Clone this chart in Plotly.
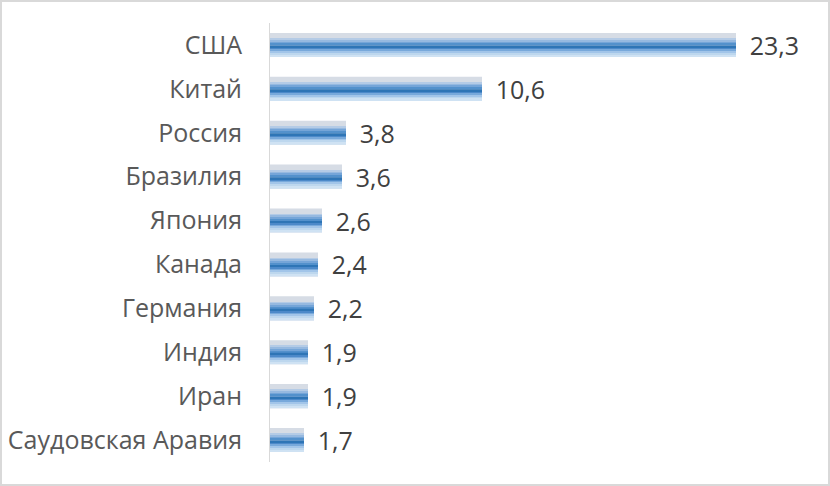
import plotly.graph_objects as go

# countries and values, top to bottom
countries = ["США", "Китай", "Россия", "Бразилия", "Япония", "Канада",
             "Германия", "Индия", "Иран", "Саудовская Аравия"]
values = [23.3, 10.6, 3.8, 3.6, 2.6, 2.4, 2.2, 1.9, 1.9, 1.7]

BAR_W = 0.55

# fake the vertical gradient of the bars with thin overlaid bands:
# (start, end) as fraction of bar height from the top, colour
bands = [
    (0.00, 0.24, "#d6dce5"),
    (0.24, 0.31, "#b4cbe6"),
    (0.31, 0.38, "#96b9e0"),
    (0.38, 0.45, "#75a5d8"),
    (0.45, 0.52, "#5391cc"),
    (0.52, 0.64, "#2e75b6"),
    (0.64, 0.70, "#4c89c9"),
    (0.70, 0.76, "#78a9db"),
    (0.76, 0.84, "#a2c5e9"),
    (0.84, 0.92, "#bdd7ee"),
    (0.92, 1.00, "#cfe2f3"),
]

FONT = "Open Sans"
FS = 25

fig = go.Figure()

# full-height base bar carries the value labels
fig.add_trace(go.Bar(
    x=values, y=countries, orientation="h",
    width=BAR_W, offset=-BAR_W / 2,
    marker=dict(color=bands[0][2], line=dict(width=0)),
    texttemplate="\u00a0\u2009%{x:.1f}", textposition="outside",
    constraintext="none",
    textfont=dict(size=FS, color="#404040", family=FONT),
    cliponaxis=False, hoverinfo="skip",
))

for a, b, col in bands[1:]:
    fig.add_trace(go.Bar(
        x=values, y=countries, orientation="h",
        width=(b - a) * BAR_W, offset=-BAR_W / 2 + a * BAR_W,
        marker=dict(color=col, line=dict(width=0)),
        hoverinfo="skip",
    ))

L, R, T, B = 270, 60, 23, 24
W, H = 830, 486
pw, ph = W - L - R, H - T - B

fig.update_layout(
    width=W, height=H,
    margin=dict(l=L, r=R, t=T, b=B, autoexpand=False),
    barmode="overlay", showlegend=False,
    separators=", ",
    paper_bgcolor="white", plot_bgcolor="white",
    font=dict(family=FONT, size=FS, color="#595959"),
    xaxis=dict(range=[0, 25], visible=False, automargin=False),
    yaxis=dict(autorange="reversed", showline=True, linecolor="#d9d9d9",
               linewidth=1, ticks="", showgrid=False, ticklabelstandoff=22,
               automargin=False,
               tickfont=dict(size=FS, color="#595959", family=FONT)),
    shapes=[dict(type="rect", xref="paper", yref="paper",
                 x0=(1 - L) / pw, x1=(W - 1 - L) / pw,
                 y0=(H - B - (H - 1)) / ph, y1=(H - B - 1) / ph,
                 line=dict(color="#d9d9d9", width=2))],
)

# drop the default page margin so the chart sits at the window corner
fig.write_html("out.html", config={"displayModeBar": False},
               post_script="document.body.style.margin='0';document.body.style.overflow='hidden';")
